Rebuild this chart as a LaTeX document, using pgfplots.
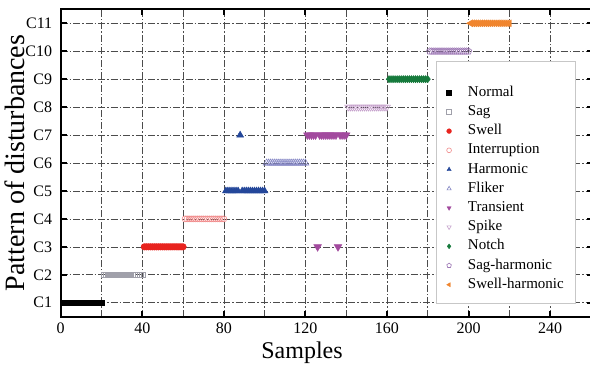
\documentclass[border=0pt]{standalone}
\usepackage{pgfplots}
\pgfplotsset{compat=1.18}
\usepackage{fontspec}
\setmainfont{Liberation Serif}
\usetikzlibrary{plotmarks}

\definecolor{cNormal}{HTML}{000000}
\definecolor{cSag}{HTML}{A0A0AA}
\definecolor{cSwell}{HTML}{E8231E}
\definecolor{cInterr}{HTML}{F08A8A}
\definecolor{cHarm}{HTML}{24479A}
\definecolor{cFliker}{HTML}{8486C4}
\definecolor{cTrans}{HTML}{A24A9E}
\definecolor{cSpike}{HTML}{C6A2CC}
\definecolor{cNotch}{HTML}{167A3C}
\definecolor{cSagH}{HTML}{9C76B4}
\definecolor{cSwellH}{HTML}{F0852E}

\begin{document}
\begin{tikzpicture}
\begin{axis}[
  name=ax,
  scale only axis,
  width=532.2pt, height=307.4pt,
  xmin=0, xmax=261, ymin=0.5, ymax=11.5,
  xtick={0,40,...,240},
  minor xtick={20,60,...,260},
  ytick={1,2,3,4,5,6,7,8,9,10,11},
  yticklabels={C1,C2,C3,C4,C5,C6,C7,C8,C9,C10,C11},
  xmajorgrids, xminorgrids, ymajorgrids,
  grid style={black!70, line width=0.6pt, dash pattern=on 7pt off 2pt on 1.5pt off 2pt},
  minor grid style={black!70, line width=0.6pt, dash pattern=on 7pt off 2pt on 1.5pt off 2pt},
  tick align=inside,
  major tick length=6pt, minor tick length=0pt,
  axis line style={line width=2.2pt},
  every tick/.style={black, line width=2pt},
  /pgf/number format/assume math mode=true,
  tick label style={font=\fontsize{16}{16}\selectfont},
  yticklabel style={xshift=-5pt},
  xticklabel style={yshift=-3pt},
  xlabel={Samples},
  ylabel={Pattern of disturbances},
  xlabel style={at={(axis description cs:0.4534,-0.1376)}, anchor=base, font=\fontsize{24}{24}\selectfont},
  ylabel style={at={(axis description cs:-0.0671,0.5)}, anchor=base, font=\fontsize{28}{28}\selectfont},
  legend cell align=left,
  legend image code/.code={\draw[#1, mark size=2.4pt] plot coordinates {(0pt,0pt)};},
  legend style={at={(0.7249,0.7537)}, anchor=north west, draw=none, fill=none,
    inner sep=0pt, row sep=4.2pt, column sep=16.5pt,
    font=\fontsize{15}{15}\selectfont,
    nodes={inner sep=0pt, text height=11pt, text depth=4pt}},
]

% Legend frame
\draw[fill=white, draw=black!22, line width=0.8pt]
  (axis cs:184.1,9.65) rectangle (axis cs:252.2,0.99);

% C1 Normal
\addplot[only marks, mark=square*, mark size=2.7pt, color=cNormal] coordinates {
(1,1)(2,1)(3,1)(4,1)(5,1)(6,1)(7,1)(8,1)(9,1)(10,1)
(11,1)(12,1)(13,1)(14,1)(15,1)(16,1)(17,1)(18,1)(19,1)(20,1)};
\addlegendentry{Normal}
% C2 Sag
\addplot[only marks, mark=square, mark size=2.7pt, color=cSag, line width=0.5pt] coordinates {
(21,2)(22,2)(23,2)(24,2)(25,2)(26,2)(27,2)(28,2)(29,2)(30,2)
(31,2)(32,2)(33,2)(34,2)(35,2)(36,2)(37,2)(38,2)(39,2)(40,2)};
\addlegendentry{Sag}
% C3 Swell
\addplot[only marks, mark=*, mark size=3.3pt, color=cSwell] coordinates {
(41,3)(42,3)(43,3)(44,3)(45,3)(46,3)(47,3)(48,3)(49,3)(50,3)
(51,3)(52,3)(53,3)(54,3)(55,3)(56,3)(57,3)(58,3)(59,3)(60,3)};
\addlegendentry{Swell}
% C4 Interruption
\addplot[only marks, mark=o, mark size=3pt, color=cInterr, line width=0.6pt] coordinates {
(61,4)(62,4)(63,4)(64,4)(65,4)(66,4)(67,4)(68,4)(69,4)(70,4)
(71,4)(72,4)(73,4)(74,4)(75,4)(76,4)(77,4)(78,4)(79,4)(80,4)};
\addlegendentry{Interruption}
% C5 Harmonic (one sample assigned to C7)
\addplot[only marks, mark=triangle*, mark size=4pt, color=cHarm] coordinates {
(81,5)(82,5)(83,5)(84,5)(85,5)(86,5)(87,5)(88,7)(89,5)(90,5)
(91,5)(92,5)(93,5)(94,5)(95,5)(96,5)(97,5)(98,5)(99,5)(100,5)};
\addlegendentry{Harmonic}
% C6 Fliker
\addplot[only marks, mark=triangle, mark size=4pt, color=cFliker, line width=0.6pt] coordinates {
(101,6)(102,6)(103,6)(104,6)(105,6)(106,6)(107,6)(108,6)(109,6)(110,6)
(111,6)(112,6)(113,6)(114,6)(115,6)(116,6)(117,6)(118,6)(119,6)(120,6)};
\addlegendentry{Fliker}
% C7 Transient (two samples assigned to C3)
\addplot[only marks, mark=triangle*, mark size=4.5pt, mark options={rotate=180}, color=cTrans] coordinates {
(121,7)(122,7)(123,7)(124,7)(125,7)(126,3)(127,7)(128,7)(129,7)(130,7)
(131,7)(132,7)(133,7)(134,7)(135,7)(136,3)(137,7)(138,7)(139,7)(140,7)};
\addlegendentry{Transient}
% C8 Spike
\addplot[only marks, mark=triangle, mark size=4pt, mark options={rotate=180}, color=cSpike, line width=0.6pt] coordinates {
(141,8)(142,8)(143,8)(144,8)(145,8)(146,8)(147,8)(148,8)(149,8)(150,8)
(151,8)(152,8)(153,8)(154,8)(155,8)(156,8)(157,8)(158,8)(159,8)(160,8)};
\addlegendentry{Spike}
% C9 Notch
\addplot[only marks, mark=diamond*, mark size=3.6pt, color=cNotch] coordinates {
(161,9)(162,9)(163,9)(164,9)(165,9)(166,9)(167,9)(168,9)(169,9)(170,9)
(171,9)(172,9)(173,9)(174,9)(175,9)(176,9)(177,9)(178,9)(179,9)(180,9)};
\addlegendentry{Notch}
% C10 Sag-harmonic
\addplot[only marks, mark=pentagon, mark size=3.4pt, color=cSagH, line width=0.6pt] coordinates {
(181,10)(182,10)(183,10)(184,10)(185,10)(186,10)(187,10)(188,10)(189,10)(190,10)
(191,10)(192,10)(193,10)(194,10)(195,10)(196,10)(197,10)(198,10)(199,10)(200,10)};
\addlegendentry{Sag-harmonic}
% C11 Swell-harmonic
\addplot[only marks, mark=triangle*, mark size=4pt, mark options={rotate=90}, color=cSwellH] coordinates {
(201,11)(202,11)(203,11)(204,11)(205,11)(206,11)(207,11)(208,11)(209,11)(210,11)
(211,11)(212,11)(213,11)(214,11)(215,11)(216,11)(217,11)(218,11)(219,11)(220,11)};
\addlegendentry{Swell-harmonic}
\end{axis}
\pgfresetboundingbox
\path[use as bounding box] (ax.south west) ++(-60.7pt,-50.3pt) rectangle ++(590pt,367pt);
\end{tikzpicture}
\end{document}
